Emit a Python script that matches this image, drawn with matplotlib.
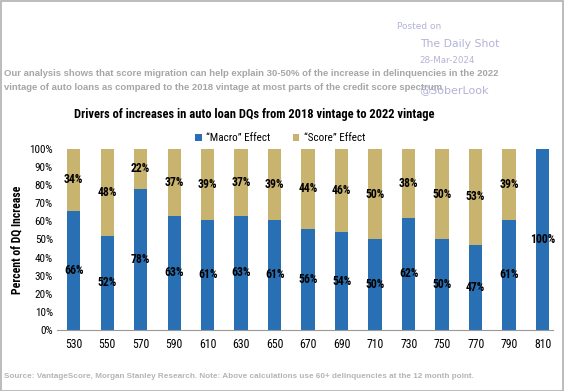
import matplotlib
matplotlib.use("Agg")
import matplotlib.pyplot as plt
from matplotlib import font_manager as fm
from matplotlib.patches import Rectangle

categories = ["530", "550", "570", "590", "610", "630", "650", "670", "690", "710", "730", "750", "770", "790", "810"]
macro = [66, 52, 78, 63, 61, 63, 61, 56, 54, 50, 62, 50, 47, 61, 100]
score = [34, 48, 22, 37, 39, 37, 39, 44, 46, 50, 38, 50, 53, 39, 0]
yticks = [0, 10, 20, 30, 40, 50, 60, 70, 80, 90, 100]

names = {f.name for f in fm.fontManager.ttflist}
cond = None
for c in ["Roboto Condensed", "Liberation Sans Narrow", "DejaVu Sans Condensed", "Roboto"]:
    if c in names:
        cond = c
        break

BLUE = "#2870b3"
GOLD = "#c9b46f"

fig = plt.figure(figsize=(5.64, 3.91), dpi=100)
fig.patches.append(Rectangle((0.001, 0.001), 0.997, 0.997, transform=fig.transFigure,
                             fill=False, edgecolor="#b0b0b0", linewidth=1.2))

ax = fig.add_axes([0.101, 0.156, 0.879, 0.463])
x = range(len(categories))
w = 0.4
ax.bar(x, macro, width=w, color=BLUE, label="\u201cMacro\u201d Effect")
ax.bar(x, score, width=w, bottom=macro, color=GOLD, label="\u201cScore\u201d Effect")

for i in x:
    ax.text(i, macro[i] / 2, f"{macro[i]}%", ha="center", va="center",
            fontsize=8.5, fontweight="bold", family=cond, color="black")
    if score[i] > 0:
        ax.text(i, macro[i] + score[i] / 2, f"{score[i]}%", ha="center", va="center",
                fontsize=8.5, fontweight="bold", family=cond, color="black")

ax.set_xlim(-0.5, 14.3)
ax.set_ylim(0, 100)
ax.set_yticks(yticks)
ax.set_yticklabels([f"{t}%" for t in yticks], family=cond, fontsize=8)
ax.set_xticks(list(x))
ax.set_xticklabels(categories, family=cond, fontsize=8.5)
for s in ["top", "right", "left"]:
    ax.spines[s].set_visible(False)
ax.spines["bottom"].set_color("#999999")
ax.tick_params(axis="both", length=0)
ax.tick_params(axis="x", pad=6)
ax.tick_params(axis="y", pad=3)
ax.set_ylabel("Percent of DQ Increase", family=cond, fontweight="bold", fontsize=8.5, labelpad=4)

ax.legend(loc="lower center", bbox_to_anchor=(0.45, 1.0), ncol=2, frameon=False,
          prop={"family": cond, "size": 8}, handlelength=0.6, handleheight=0.6,
          columnspacing=2.0, handletextpad=0.4, borderaxespad=0.1)

fig.text(0.45, 0.708, "Drivers of increases in auto loan DQs from 2018 vintage to 2022 vintage",
         ha="center", va="center", family=cond, fontweight="bold", fontsize=9, color="black")

fig.text(0.007, 0.813, "Our analysis shows that score migration can help explain 30-50% of the increase in delinquencies in the 2022",
         ha="left", va="center", fontsize=6.8, fontweight="bold", color="#a6a6a6", family="Liberation Sans")
fig.text(0.007, 0.777, "vintage of auto loans as compared to the 2018 vintage at most parts of the credit score spectrum",
         ha="left", va="center", fontsize=6.8, fontweight="bold", color="#a6a6a6", family="Liberation Sans")

fig.text(0.704, 0.931, "Posted on", ha="left", va="center", fontsize=6.5, color="#b3b3d6")
fig.text(0.744, 0.888, "The Daily Shot", ha="left", va="center", fontsize=7.8, color="#b3b3d6")
fig.text(0.744, 0.844, "28-Mar-2024", ha="left", va="center", fontsize=6.3, color="#b3b3d6")
fig.text(0.744, 0.769, "@SoberLook", ha="left", va="center", fontsize=8.0, color="#b3b3d6")

fig.text(0.007, 0.036, "Source: VantageScore, Morgan Stanley Research. Note: Above calculations use 60+ delinquencies at the 12 month point.",
         ha="left", va="center", fontsize=5.85, fontweight="bold", color="#b5b5b5", family="Liberation Sans")

fig.savefig("out.png", dpi=100)
